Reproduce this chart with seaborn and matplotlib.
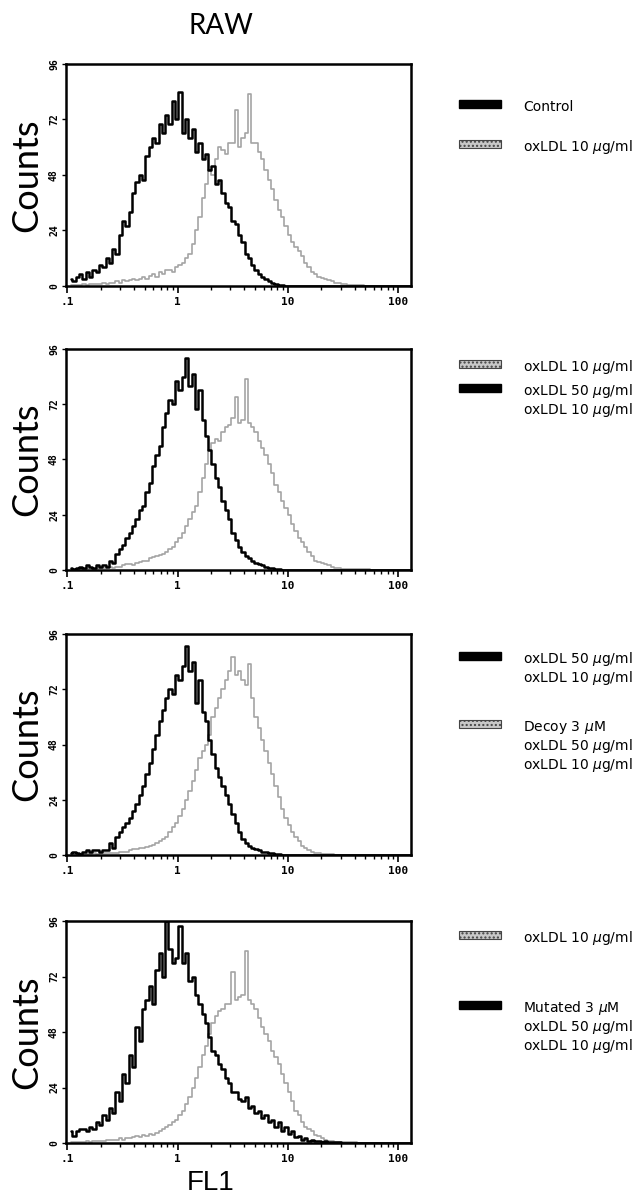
import numpy as np
import pandas as pd
import matplotlib
matplotlib.use("Agg")
import matplotlib.pyplot as plt
import matplotlib.ticker as mtick
from matplotlib.patches import Rectangle
import seaborn as sns

# FL1 channels: log10 centres -0.97 ... 2.12, step 0.03 (104 channels)
channel_log = -0.97 + 0.03 * np.arange(104)

# counts (black = dark trace, grey = light trace)
p1_black = [3, 2, 4, 5, 3, 6, 4, 7, 6, 9,
            8, 12, 10, 16, 14, 22, 28, 26, 32, 40,
            45, 48, 46, 56, 60, 64, 62, 70, 66, 74,
            70, 80, 72, 84, 66, 72, 64, 68, 58, 62,
            55, 57, 50, 52, 44, 46, 40, 36, 34, 28,
            27, 22, 19, 14, 12, 9, 7, 5, 4, 3,
            2, 1.5, 1, 0.5, 0.3, 0, 0, 0, 0, 0,
            0, 0, 0, 0, 0, 0, 0, 0, 0, 0,
            0, 0, 0, 0, 0, 0, 0, 0, 0, 0,
            0, 0, 0, 0, 0, 0, 0, 0, 0, 0,
            0, 0, 0, 0]
p1_grey = [0.3, 0.5, 0.3, 0.5, 0.8, 0.5, 0.8, 1, 0.8, 1,
           1.2, 1, 1.5, 1.2, 2, 1.5, 2.5, 2, 2.5, 3,
           2.5, 3, 4, 3, 4.5, 5, 4, 6, 5, 7,
           7, 6, 8, 9, 10, 12, 14, 18, 24, 30,
           38, 44, 50, 48, 55, 60, 59, 57, 62, 62,
           76, 60, 64, 66, 83, 62, 62, 58, 55, 50,
           46, 42, 37, 33, 30, 26, 22, 19, 17, 15,
           13, 10, 8, 6, 5, 4, 3.5, 3, 2.5, 2,
           1.5, 1.2, 1, 0.8, 0.5, 0.5, 0.3, 0.3, 0.3, 0.2,
           0.2, 0.2, 0.2, 0.2, 0.2, 0.2, 0.2, 0.2, 0.2, 0.2,
           0.2, 0.2, 0.2, 0.2]

p2_black = [1, 0.5, 1, 1.5, 1, 2, 1.5, 1, 2, 1.5,
            2, 1.5, 4, 3, 7, 9, 11, 14, 16, 19,
            22, 26, 28, 34, 38, 45, 50, 54, 62, 68,
            74, 72, 82, 78, 84, 92, 80, 85, 70, 78,
            65, 58, 52, 46, 40, 36, 30, 26, 22, 16,
            13, 10, 8, 6, 5, 4, 3, 2.5, 2, 1.5,
            1, 0.8, 0.5, 0.3, 0, 0, 0, 0, 0, 0,
            0, 0, 0, 0, 0, 0, 0, 0, 0, 0,
            0, 0, 0, 0, 0, 0, 0, 0, 0, 0,
            0, 0, 0, 0, 0, 0, 0, 0, 0, 0,
            0, 0, 0, 0]
p2_grey = [0.5, 0.3, 0.5, 0.5, 0.5, 0.8, 0.8, 0.5, 0.8, 1,
           1, 1.2, 1.2, 1, 1.5, 1.5, 2, 2.5, 2.5, 2,
           3, 3.5, 4, 4, 5, 5.5, 6, 6.5, 7, 8,
           9, 10, 12, 14, 16, 19, 22, 25, 28, 34,
           40, 46, 52, 55, 57, 56, 60, 62, 63, 66,
           75, 64, 65, 83, 64, 62, 60, 56, 53, 50,
           46, 42, 37, 34, 30, 27, 24, 20, 17, 14,
           12, 10, 8, 6, 4, 3.5, 3, 2.5, 2, 1.5,
           1, 0.8, 0.5, 0.5, 0.5, 0.3, 0.3, 0.3, 0.3, 0.3,
           0.3, 0.2, 0.2, 0.2, 0.2, 0.2, 0.2, 0.2, 0.2, 0.2,
           0.2, 0.2, 0.2, 0.2]

p3_black = [1, 1.5, 1, 0.5, 1.5, 2, 1.5, 2, 2, 1.5,
            2, 2, 5, 3, 8, 10, 12, 14, 16, 19,
            22, 26, 30, 35, 40, 46, 52, 58, 63, 68,
            72, 70, 78, 76, 82, 91, 80, 84, 66, 76,
            62, 58, 50, 44, 38, 34, 30, 26, 22, 18,
            14, 10, 7, 5, 4, 3, 2.5, 2, 1.5, 1.2,
            1, 0.8, 0.5, 0.3, 0, 0, 0, 0, 0, 0,
            0, 0, 0, 0, 0, 0, 0, 0, 0, 0,
            0, 0, 0, 0, 0, 0, 0, 0, 0, 0,
            0, 0, 0, 0, 0, 0, 0, 0, 0, 0,
            0, 0, 0, 0]
p3_grey = [0.3, 0.3, 0.3, 0.5, 0.5, 0.3, 0.5, 0.8, 0.5, 0.8,
           0.8, 1, 1, 0.8, 1, 1.2, 1.5, 1.5, 2, 2.5,
           2.5, 3, 3, 3.5, 4, 4.5, 5, 6, 7, 8,
           10, 12, 14, 17, 20, 24, 28, 32, 37, 42,
           45, 48, 52, 60, 64, 68, 72, 76, 80, 86,
           78, 80, 76, 74, 83, 68, 60, 55, 50, 45,
           40, 35, 30, 25, 20, 16, 13, 10, 8, 6,
           4, 3, 2, 1.5, 1, 0.8, 0.5, 0.5, 0.3, 0.3,
           0.2, 0.2, 0.2, 0.2, 0.2, 0.2, 0.2, 0.2, 0.2, 0.2,
           0.2, 0.2, 0.2, 0.2, 0.2, 0.2, 0.2, 0.2, 0.2, 0.2,
           0.2, 0.2, 0.2, 0.2]

p4_black = [5, 3, 5, 6, 6, 5, 7, 6, 9, 8,
            12, 10, 15, 13, 22, 18, 30, 26, 38, 33,
            50, 44, 58, 62, 68, 60, 75, 82, 72, 96,
            84, 78, 80, 94, 78, 82, 70, 72, 64, 60,
            56, 52, 46, 40, 38, 34, 32, 28, 26, 22,
            22, 19, 18, 20, 15, 16, 13, 14, 11, 12,
            9, 10, 7, 9, 5, 7, 4, 5, 2.5, 3,
            1.5, 2, 1, 1.5, 1, 0.8, 0.5, 0.8, 0.5, 0.3,
            0.3, 0.3, 0, 0, 0, 0, 0, 0, 0, 0,
            0, 0, 0, 0, 0, 0, 0, 0, 0, 0,
            0, 0, 0, 0]
p4_grey = [0.3, 0.5, 0.3, 0.5, 0.5, 0.8, 0.5, 1, 1, 0.8,
           1, 1.2, 1.5, 1.2, 1.5, 2, 1.5, 2, 2, 2.5,
           3, 2.5, 3.5, 3, 4, 3.5, 4.5, 5, 6, 7,
           8, 9, 10, 12, 14, 17, 20, 24, 28, 33,
           38, 42, 47, 52, 55, 57, 58, 60, 60, 74,
           62, 63, 64, 83, 62, 60, 58, 54, 50, 47,
           44, 40, 37, 34, 30, 26, 22, 18, 14, 12,
           9, 7, 6, 5, 3.5, 3, 2, 1.5, 1, 0.8,
           0.5, 0.5, 0.5, 0.3, 0.3, 0.3, 0.3, 0.2, 0.2, 0.2,
           0.2, 0.2, 0.2, 0.2, 0.2, 0.2, 0.2, 0.2, 0.2, 0.2,
           0.2, 0.2, 0.2, 0.2]

panels = [(p1_black, p1_grey), (p2_black, p2_grey), (p3_black, p3_grey), (p4_black, p4_grey)]

# legend entries per panel: (swatch, lines of text)
legends = [
    [("black", ["Control"]), ("grey", ["oxLDL 10 $\\mu$g/ml"])],
    [("grey", ["oxLDL 10 $\\mu$g/ml"]),
     ("black", ["oxLDL 50 $\\mu$g/ml", "oxLDL 10 $\\mu$g/ml"])],
    [("black", ["oxLDL 50 $\\mu$g/ml", "oxLDL 10 $\\mu$g/ml"]),
     ("grey", ["Decoy 3 $\\mu$M", "oxLDL 50 $\\mu$g/ml", "oxLDL 10 $\\mu$g/ml"])],
    [("grey", ["oxLDL 10 $\\mu$g/ml"]),
     ("black", ["Mutated 3 $\\mu$M", "oxLDL 50 $\\mu$g/ml", "oxLDL 10 $\\mu$g/ml"])],
]

x_ticks = [0.1, 1, 10, 100]
x_ticklabels = [".1", "1", "10", "100"]
y_ticks = [0, 24, 48, 72, 96]

sns.set_style("white")
plt.rcParams["font.family"] = ["DejaVu Sans"]
plt.rcParams["mathtext.fontset"] = "dejavusans"
for key in ["text.color", "axes.labelcolor", "xtick.color", "ytick.color"]:
    plt.rcParams[key] = "black"

W, H = 642, 1198
fig = plt.figure(figsize=(W / 100, H / 100), dpi=100)

# axes boxes in pixels: (top, bottom)
boxes = [(64, 286), (349, 570), (634, 855), (921, 1143)]
left_px, right_px = 66, 411
# legend swatch rows (pixels) for each entry
legend_y = [[104, 144], [364, 388], [656, 724], [935, 1005]]

for k, ((blk, gry), (top, bot)) in enumerate(zip(panels, boxes)):
    assert len(blk) == len(gry) == len(channel_log)
    ax = fig.add_axes([left_px / W, 1 - bot / H, (right_px - left_px) / W, (bot - top) / H])
    df = pd.DataFrame({"fl1": 10 ** channel_log, "black": blk, "grey": gry})
    # grey first so the black trace sits on top where they cross
    sns.lineplot(data=df, x="fl1", y="grey", ax=ax, color="#a4a4a4", lw=1.2,
                 drawstyle="steps-mid", estimator=None)
    sns.lineplot(data=df, x="fl1", y="black", ax=ax, color="black", lw=1.8,
                 drawstyle="steps-mid", estimator=None)
    ax.set_xscale("log")
    ax.set_xlim(0.097, 130)
    ax.set_ylim(0, 96)
    ax.set_xlabel("")
    ax.set_ylabel("Counts", family=["Lato", "DejaVu Sans"], fontsize=26, labelpad=4)
    ax.set_xticks(x_ticks)
    ax.set_xticklabels(x_ticklabels, family="DejaVu Sans Mono", fontweight="bold", fontsize=8)
    ax.xaxis.set_minor_locator(mtick.LogLocator(base=10, subs=np.arange(2, 10)))
    ax.xaxis.set_minor_formatter(mtick.NullFormatter())
    ax.set_yticks(y_ticks)
    ax.set_yticklabels([str(v) for v in y_ticks], family="DejaVu Sans Mono",
                       fontweight="bold", fontsize=7, rotation=90, va="center")
    ax.tick_params(axis="x", which="major", direction="out", length=5, width=1.2, pad=3)
    ax.tick_params(axis="x", which="minor", direction="out", length=3, width=1.0)
    ax.tick_params(axis="y", direction="out", length=3, width=1.0, pad=2)
    ax.tick_params(bottom=True, left=True, which="both")
    for s in ax.spines.values():
        s.set_visible(True)
        s.set_linewidth(1.8)
        s.set_color("black")

    # legend at right
    for (kind, lines), sy in zip(legends[k], legend_y[k]):
        if kind == "black":
            rect = Rectangle((459 / W, 1 - (sy + 4) / H), 42 / W, 8 / H,
                             transform=fig.transFigure, facecolor="black", edgecolor="black")
        else:
            rect = Rectangle((459 / W, 1 - (sy + 4) / H), 42 / W, 8 / H,
                             transform=fig.transFigure, facecolor="#c8c8c8",
                             edgecolor="#444444", hatch="....", lw=0.8)
        fig.add_artist(rect)
        for j, line in enumerate(lines):
            fig.text(523 / W, 1 - (sy + 3 + 19 * j) / H, line, fontsize=10,
                     va="center", ha="left")

fig.text(221 / W, 1 - 26 / H, "RAW", family=["Lato", "DejaVu Sans"], fontsize=20,
         ha="center", va="center")
fig.text(211 / W, 1 - 1183 / H, "FL1", family=["Liberation Sans", "DejaVu Sans"],
         fontsize=20, ha="center", va="center")

fig.savefig("out.png", dpi=100, facecolor="white")
